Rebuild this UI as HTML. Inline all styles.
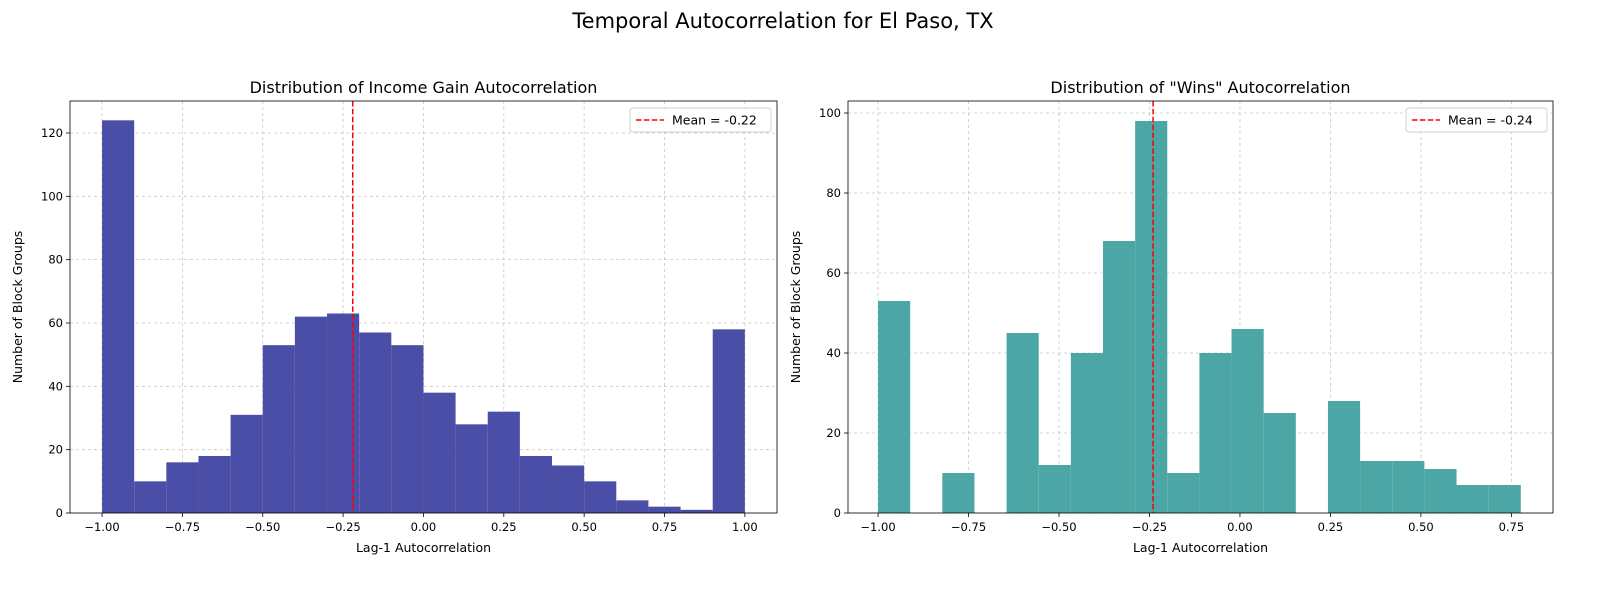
<!DOCTYPE html>
<html><head><meta charset="utf-8"><style>
body{margin:0;background:#fff;}
svg text{font-family:"DejaVu Sans","Liberation Sans",sans-serif;fill:#000;}
</style></head><body>
<svg id="c" width="1600" height="600" xmlns="http://www.w3.org/2000/svg">
<text x="783" y="28" font-size="21" text-anchor="middle">Temporal Autocorrelation for El Paso, TX</text>
</svg>
<script>
const leftCounts=[124,10,16,18,31,53,62,63,57,53,38,28,32,18,15,10,4,2,1,58];
const leftBinStart=-1.0, leftBinEnd=1.0;
const leftTicksX=[-1.00,-0.75,-0.50,-0.25,0.00,0.25,0.50,0.75,1.00];
const leftTicksY=[0,20,40,60,80,100,120];
const leftMean=-0.22;
const rightCounts=[53,0,10,0,45,12,40,68,98,10,40,46,25,0,28,13,13,11,7,7];
const rightBinStart=-1.0, rightBinEnd=0.776;
const rightTicksX=[-1.00,-0.75,-0.50,-0.25,0.00,0.25,0.50,0.75];
const rightTicksY=[0,20,40,60,80,100];
const rightMean=-0.24;

const NS="http://www.w3.org/2000/svg";
const svg=document.getElementById('c');
function mk(tag,attrs,parent){const e=document.createElementNS(NS,tag);for(const k in attrs)e.setAttribute(k,attrs[k]);(parent||svg).appendChild(e);return e;}
function fmt(v){const s=Math.abs(v).toFixed(2);return (v<0?'\u2212':'')+s;}

function panel(o){
  const g=mk('g',{});
  
  
  const sx=v=>o.x0+(v-o.xmin)/(o.xmax-o.xmin)*(o.x1-o.x0);
  const sy=v=>o.y1-(v-0)/(o.ymax)*(o.y1-o.y0);
  o.tx.forEach(t=>{const l=mk('line',{x1:sx(t),x2:sx(t),y1:o.y0,y2:o.y1,stroke:'#b0b0b0','stroke-width':0.8,'stroke-dasharray':'3,3',opacity:0.7},g);
    });
  o.ty.forEach(t=>{const l=mk('line',{x1:o.x0,x2:o.x1,y1:sy(t),y2:sy(t),stroke:'#b0b0b0','stroke-width':0.8,'stroke-dasharray':'3,3',opacity:0.7},g);
    });
  const n=o.counts.length,w=(o.b1-o.b0)/n;
  o.counts.forEach((c,i)=>{if(c<=0)return;const xa=sx(o.b0+i*w),xb=sx(o.b0+(i+1)*w);
    const r=mk('rect',{x:xa,y:sy(c),width:xb-xa,height:sy(0)-sy(c),fill:o.color},g);
    });
  const m=mk('line',{x1:sx(o.mean),x2:sx(o.mean),y1:o.y0,y2:o.y1,stroke:'red','stroke-width':1.5,'stroke-dasharray':'5.5,2.4'},g);
  
  const f=mk('rect',{x:o.x0,y:o.y0,width:o.x1-o.x0,height:o.y1-o.y0,fill:'none',stroke:'#000','stroke-width':0.8},g);
  
  o.tx.forEach(t=>{mk('line',{x1:sx(t),x2:sx(t),y1:o.y1,y2:o.y1+4,stroke:'#000','stroke-width':0.8},g);
    const tt=mk('text',{x:sx(t),y:o.y1+18,'font-size':11.5,'text-anchor':'middle'},g);tt.textContent=fmt(t);
    });
  o.ty.forEach(t=>{mk('line',{x1:o.x0-4,x2:o.x0,y1:sy(t),y2:sy(t),stroke:'#000','stroke-width':0.8},g);
    const tt=mk('text',{x:o.x0-7,y:sy(t)+4,'font-size':11.5,'text-anchor':'end'},g);tt.textContent=t;
    });
  const xl=mk('text',{x:(o.x0+o.x1)/2,y:o.y1+39,'font-size':12.5,'text-anchor':'middle'},g);xl.textContent='Lag-1 Autocorrelation';
  
  const yl=mk('text',{x:0,y:0,'font-size':12.5,'text-anchor':'middle',transform:`translate(${o.x0-48},${(o.y0+o.y1)/2}) rotate(-90)`},g);yl.textContent='Number of Block Groups';
  
  const ti=mk('text',{x:(o.x0+o.x1)/2,y:o.y0-8,'font-size':16,'text-anchor':'middle'},g);ti.textContent=o.title;
  
  const lg=mk('g',{},g);
  const lw=141;const lx=o.x1-6-lw,ly=o.y0+7;
  mk('rect',{x:lx,y:ly,width:lw,height:24,rx:3,fill:'#fff',stroke:'#ccc','stroke-width':1,opacity:0.9},lg);
  mk('line',{x1:lx+6,x2:lx+34,y1:ly+12,y2:ly+12,stroke:'red','stroke-width':1.5,'stroke-dasharray':'5.5,2.4'},lg);
  const lt=mk('text',{x:lx+42,y:ly+16.5,'font-size':12.5},lg);lt.textContent='Mean = '+o.mean.toFixed(2);
  
}
panel({name:'income-gain-histogram',x0:70,x1:777,y0:101,y1:513,xmin:-1.0997,xmax:1.1,ymax:130.1,counts:leftCounts,b0:leftBinStart,b1:leftBinEnd,tx:leftTicksX,ty:leftTicksY,mean:leftMean,color:'#4b4ea6',title:'Distribution of Income Gain Autocorrelation'});
panel({name:'wins-histogram',x0:848,x1:1553,y0:101,y1:513,xmin:-1.083,xmax:0.865,ymax:103,counts:rightCounts,b0:rightBinStart,b1:rightBinEnd,tx:rightTicksX,ty:rightTicksY,mean:rightMean,color:'#4da6a6',title:'Distribution of "Wins" Autocorrelation'});
</script>
</body></html>
